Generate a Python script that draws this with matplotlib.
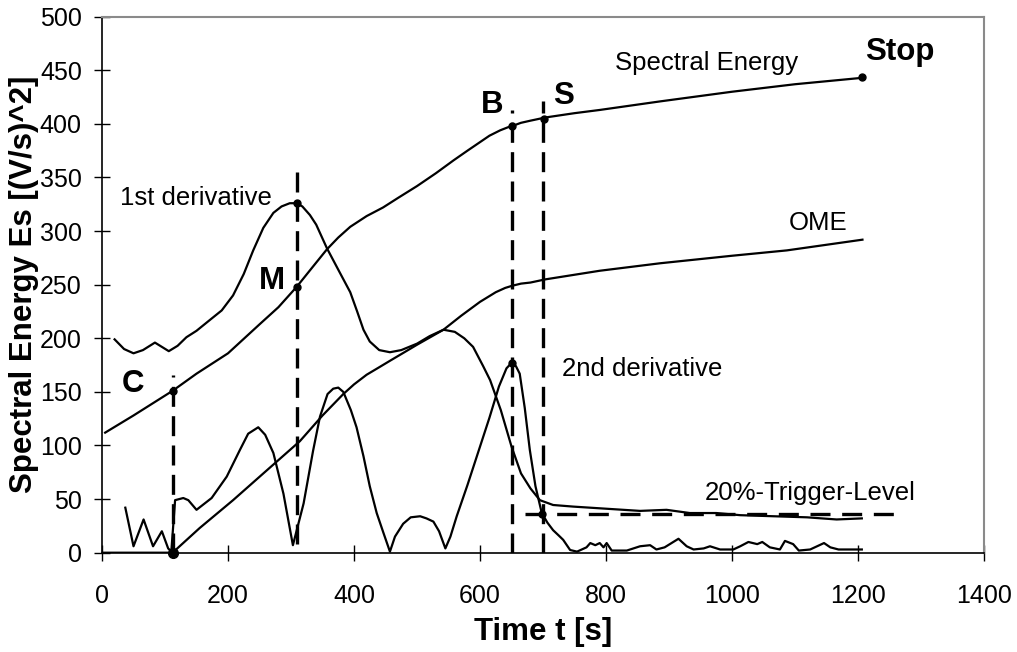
import matplotlib
matplotlib.use("Agg")
import matplotlib.pyplot as plt

plt.rcParams['font.family'] = ['Liberation Sans', 'DejaVu Sans']

# Spectral energy curve
se_t = [5, 50, 112, 150, 200, 250, 280, 309, 335, 357, 375, 394, 420, 446, 470, 500, 530, 558,
        580, 600, 615, 632, 645, 651, 665, 680, 704, 750, 790, 886, 1000, 1100, 1207]
se_v = [112, 128, 151, 167, 186, 213, 229, 248, 267, 283, 294, 304, 314, 322, 331, 342, 354, 366,
        375, 383, 389, 394, 397, 398, 401, 403, 406, 410, 413, 421, 430, 437, 443]

# OME curve
ome_t = [0, 112, 155, 208, 260, 314, 350, 383, 400, 420, 440, 457, 480, 500, 542, 570, 600,
         625, 640, 651, 665, 680, 704, 790, 886, 1000, 1087, 1207]
ome_v = [0, 0, 23, 49, 76, 104, 128, 148, 157, 166, 173, 179, 187, 194, 208, 221, 234,
         243, 247, 249, 251, 252, 255, 263, 270, 277, 282, 292]

# 1st derivative
d1_t = [20, 35, 50, 65, 84, 95, 106, 120, 134, 150, 171, 190, 208, 225, 240, 256, 272, 285,
        298, 309, 318, 330, 340, 357, 375, 394, 405, 415, 425, 440, 457, 475, 500, 520, 542,
        560, 575, 589, 605, 616, 633, 650, 665, 680, 695, 716, 748, 801, 854, 896, 933, 975,
        1013, 1066, 1119, 1166, 1206]
d1_v = [199, 190, 186, 189, 196, 192, 188, 193, 201, 207, 217, 226, 240, 260, 282, 303, 317, 323,
        326, 326, 323, 315, 306, 284, 264, 243, 225, 208, 197, 189, 187, 189, 195, 202, 208,
        206, 200, 192, 174, 161, 133, 99, 74, 60, 49, 44.5, 43, 41, 39, 40, 37, 37,
        35, 34, 33, 31, 32]

# 2nd derivative
d2_t = [37, 50, 66, 81, 95, 105, 110, 116, 129, 137, 150, 174, 198, 219, 232, 248, 259, 272,
        288, 303, 320, 335, 346, 358, 367, 375, 383, 395, 404, 415, 425, 436, 447, 457, 465,
        478, 490, 505, 515, 526, 535, 545, 553, 563, 580, 600, 615, 630, 642, 650, 657, 663,
        671, 679, 688, 698, 707, 716, 725, 732, 743, 754, 769, 775, 783, 790, 796, 801, 809,
        833, 854, 870, 880, 893, 904, 915, 928, 939, 955, 965, 981, 1002, 1013, 1026, 1040,
        1048, 1060, 1076, 1084, 1097, 1106, 1124, 1146, 1156, 1169, 1206]
d2_v = [42, 6, 31, 6, 20, 4, 1, 49, 51, 49, 40, 51, 71, 96, 111, 117, 110, 93,
        55, 7, 46, 95, 127, 148, 153, 154, 150, 133, 117, 90, 62, 37, 18, 1, 15,
        27, 33, 34, 32, 29, 20, 4, 15, 34, 63, 99, 126, 155, 172, 177, 174, 167,
        135, 96, 62, 37, 28, 21, 16, 12, 2.5, 1, 5, 9, 7, 9, 5, 9, 2,
        2, 6, 7, 3, 5, 9, 13, 6, 3, 4, 6, 3, 3, 6, 10, 8,
        10, 5, 3, 11, 8, 2, 3, 9, 5, 3, 3]

# marker lines: x, y from, y to
vline_x = [112, 309, 651, 700]
vline_y0 = [0, 8, 0, 0]
vline_y1 = [166, 356, 413, 421]
trigger_level = 36
trigger_x = [671, 1267]

# marked points
pt_t = [112, 309, 651, 701, 1207, 650, 698, 309]
pt_v = [151, 248, 398, 405, 443.5, 177, 36, 326]

fig = plt.figure(figsize=(10.17, 6.52), dpi=100)
ax = fig.add_axes([0.1003, 0.1523, 0.8673, 0.8221])

lw = 1.6
ax.plot(se_t, se_v, color='black', lw=lw)
ax.plot(ome_t, ome_v, color='black', lw=lw)
ax.plot(d1_t, d1_v, color='black', lw=lw)
ax.plot(d2_t, d2_v, color='black', lw=lw)

for x, y0, y1 in zip(vline_x, vline_y0, vline_y1):
    ax.plot([x, x], [y0, y1], color='black', lw=2.4, linestyle=(0, (6, 2.8)))
ax.plot(trigger_x, [trigger_level, trigger_level], color='black', lw=2.4,
        linestyle=(0, (6, 3.5)))

ax.plot(pt_t, pt_v, 'o', color='black', markersize=5)
ax.plot([112], [0], 'o', color='black', markersize=7, clip_on=False)

fs = 18.5
ax.text(959, 457, 'Spectral Energy', fontsize=fs, ha='center', va='center')
ax.text(1137, 308, 'OME', fontsize=fs, ha='center', va='center')
ax.text(149, 331, '1st derivative', fontsize=fs, ha='center', va='center')
ax.text(730, 171, '2nd derivative', fontsize=fs, ha='left', va='center')
ax.text(957, 56, '20%-Trigger-Level', fontsize=fs, ha='left', va='center')

bfs = 22.5
ax.text(1211, 467, 'Stop', fontsize=bfs, fontweight='bold', ha='left', va='center')
ax.text(620, 418, 'B', fontsize=bfs, fontweight='bold', ha='center', va='center')
ax.text(732, 426, 'S', fontsize=bfs, fontweight='bold', ha='center', va='center')
ax.text(270, 253, 'M', fontsize=bfs, fontweight='bold', ha='center', va='center')
ax.text(49, 157, 'C', fontsize=bfs, fontweight='bold', ha='center', va='center')

ax.set_xlim(0, 1400)
ax.set_ylim(0, 500)
ax.set_xticks(range(0, 1401, 200))
ax.set_yticks(range(0, 501, 50))
ax.tick_params(direction='inout', length=11, width=1, labelsize=18, colors='black')
ax.tick_params(axis='x', pad=17)
ax.tick_params(axis='y', pad=9)

for side in ['top', 'right']:
    ax.spines[side].set_color('#8a8a8a')
    ax.spines[side].set_linewidth(1.5)
for side in ['left', 'bottom']:
    ax.spines[side].set_color('black')
    ax.spines[side].set_linewidth(1.2)

ax.set_xlabel('Time t [s]', fontsize=22.5, fontweight='bold', va='center')
ax.xaxis.set_label_coords(0.5, -0.148)
ax.set_ylabel('Spectral Energy Es [(V/s)^2]', fontsize=22.5, fontweight='bold', va='center')
ax.yaxis.set_label_coords(-0.088, 0.5)

fig.savefig('out.png', dpi=100)
